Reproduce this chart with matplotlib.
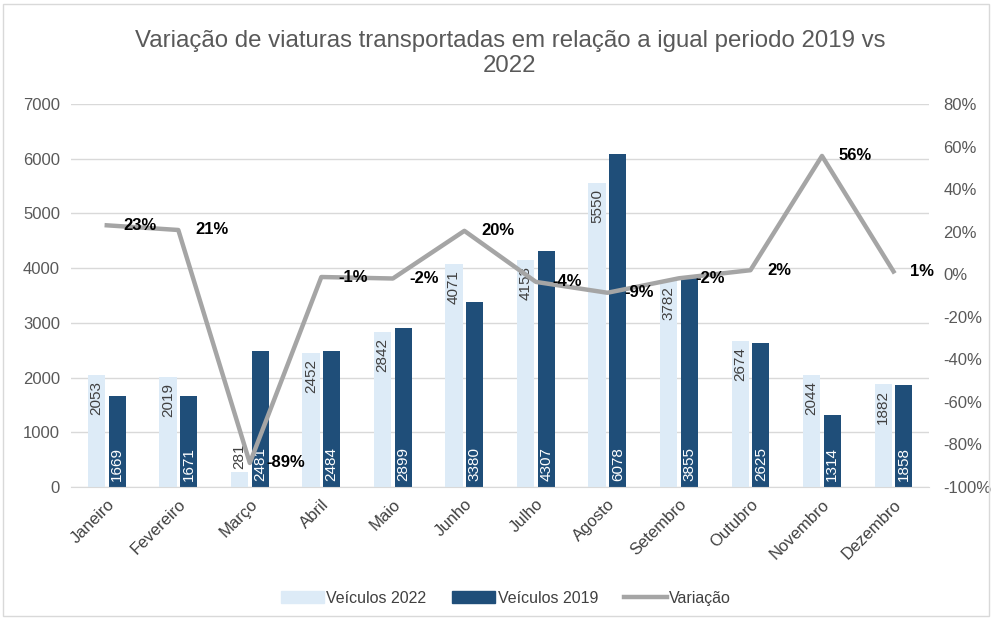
import numpy as np
import matplotlib
matplotlib.use("Agg")
import matplotlib.pyplot as plt
from matplotlib.patches import Patch, Rectangle
from matplotlib.lines import Line2D
from matplotlib.ticker import FuncFormatter

plt.rcParams["font.family"] = ["Liberation Sans", "DejaVu Sans"]

# Dados
meses = ["Janeiro", "Fevereiro", "Março", "Abril", "Maio", "Junho", "Julho",
         "Agosto", "Setembro", "Outubro", "Novembro", "Dezembro"]
veiculos_2022 = [2053, 2019, 281, 2452, 2842, 4071, 4153, 5550, 3782, 2674, 2044, 1882]
veiculos_2019 = [1669, 1671, 2481, 2484, 2899, 3380, 4307, 6078, 3855, 2625, 1314, 1858]
variacao = [0.230, 0.208, -0.887, -0.013, -0.020, 0.204, -0.036, -0.087, -0.019, 0.019, 0.556, 0.013]

cor_2022 = "#ddebf7"
cor_2019 = "#1f4e79"
cor_var = "#a5a5a5"
cinza_txt = "#595959"

fig = plt.figure(figsize=(9.96, 6.23), dpi=100)
ax = fig.add_axes([0.0713, 0.2183, 0.8617, 0.6147])
ax2 = ax.twinx()

x = np.arange(len(meses))
w = 0.24
b1 = ax.bar(x - 0.145, veiculos_2022, w, color=cor_2022, zorder=2)
b2 = ax.bar(x + 0.145, veiculos_2019, w, color=cor_2019, zorder=2)

# Rótulos nas barras
for xi, v in zip(x - 0.145, veiculos_2022):
    if v < 600:
        ax.text(xi, v + 40, str(v), rotation=90, ha="center", va="bottom",
                fontsize=11, color="#404040", zorder=3)
    else:
        ax.text(xi, v - 110, str(v), rotation=90, ha="center", va="top",
                fontsize=11, color="#404040", zorder=3)
for xi, v in zip(x + 0.145, veiculos_2019):
    ax.text(xi, 110, str(v), rotation=90, ha="center", va="bottom",
            fontsize=11, color="white", zorder=3)

ax.set_ylim(0, 7000)
ax.set_yticks(range(0, 7001, 1000))
ax.set_xlim(-0.5, len(meses) - 0.5)
ax.set_xticks(x)
ax.set_xticklabels(meses, rotation=45, ha="right", rotation_mode="anchor")
ax.yaxis.grid(True, color="#d9d9d9", linewidth=1, zorder=0)
ax.set_axisbelow(True)
ax.tick_params(length=0, labelsize=12, colors=cinza_txt)
ax.tick_params(axis="y", pad=8)
ax.tick_params(axis="x", pad=7, labelcolor="#404040")
for s in ["top", "right", "left"]:
    ax.spines[s].set_visible(False)
ax.spines["bottom"].set_color("#d9d9d9")

# Linha de variação
ax2.plot(x, variacao, color=cor_var, linewidth=3.2, zorder=4)
for xi, v in zip(x, variacao):
    ax2.annotate(f"{round(v * 100):.0f}%", (xi, v), xytext=(12, 0),
                 textcoords="offset points", ha="left", va="center",
                 fontsize=12, fontweight="bold", color="black", zorder=5)
ax2.set_ylim(-1.0, 0.8)
ax2.set_yticks(np.arange(-1.0, 0.81, 0.2))
ax2.yaxis.set_major_formatter(FuncFormatter(lambda v, p: f"{round(v * 100):.0f}%"))
ax2.tick_params(length=0, labelsize=12, colors=cinza_txt, pad=10)
for s in ax2.spines.values():
    s.set_visible(False)
ax.set_zorder(ax2.get_zorder() - 1)
ax.patch.set_visible(False)

fig.suptitle("Variação de viaturas transportadas em relação a igual periodo 2019 vs\n2022",
             x=0.512, y=0.952, fontsize=17.3, color=cinza_txt, linespacing=1.2)

handles = [Patch(color=cor_2022, label="Veículos 2022"),
           Patch(color=cor_2019, label="Veículos 2019"),
           Line2D([0], [0], color=cor_var, linewidth=3.2, label="Variação")]
fig.legend(handles=handles, loc="center", bbox_to_anchor=(0.508, 0.04), ncol=3,
           frameon=False, fontsize=11.5, handlelength=2.7, handleheight=0.7,
           columnspacing=1.6, handletextpad=0.15, labelcolor="#404040")

fig.add_artist(Rectangle((0.003, 0.012), 0.99, 0.982, transform=fig.transFigure,
                         fill=False, edgecolor="#d9d9d9", linewidth=1))

fig.savefig("out.png", dpi=100)
